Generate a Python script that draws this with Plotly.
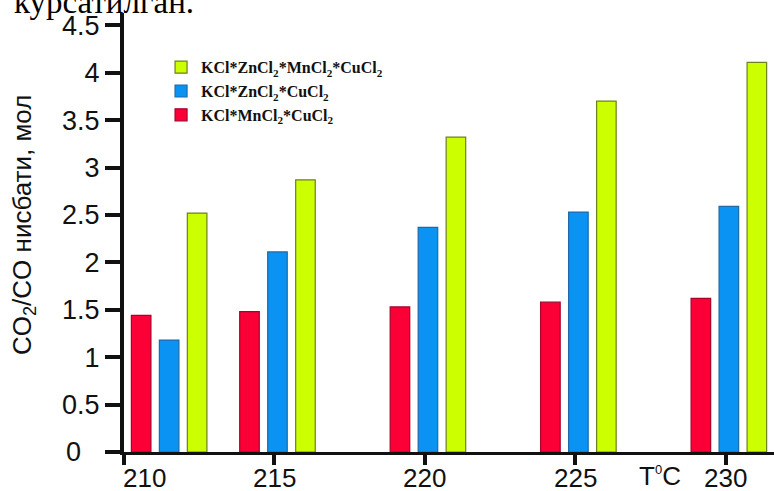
import plotly.graph_objects as go

# ---- data ----
temperatures = [210, 215, 220, 225, 230]
group_positions = [211.5, 215.1, 220.1, 225.1, 230.1]   # centre of each bar group on the T axis
series_names = ["KCl*MnCl<sub>2</sub>*CuCl<sub>2</sub>",
                "KCl*ZnCl<sub>2</sub>*CuCl<sub>2</sub>",
                "KCl*ZnCl<sub>2</sub>*MnCl<sub>2</sub>*CuCl<sub>2</sub>"]
kcl_mn_cu = [1.44, 1.48, 1.53, 1.58, 1.62]
kcl_zn_cu = [1.18, 2.11, 2.37, 2.53, 2.59]
kcl_zn_mn_cu = [2.52, 2.87, 3.32, 3.70, 4.11]
y_ticks = [0, 0.5, 1, 1.5, 2, 2.5, 3, 3.5, 4, 4.5]
y_tick_text = ["", "0.5", "1", "1.5", "2", "2.5", "3", "3.5", "4", "4.5"]
x_tick_text = ["210", "215", "220", "225", "230"]

fills = ["#FA0037", "#0A93F2", "#CCFF00"]
edges = ["#A8002A", "#1E6AA8", "#6F7F22"]
offsets = [-1.255, -0.325, 0.605]
bar_width = 0.65

fig = go.Figure()
for name, vals, fc, ec, off in zip(series_names, [kcl_mn_cu, kcl_zn_cu, kcl_zn_mn_cu],
                                    fills, edges, offsets):
    fig.add_trace(go.Bar(x=group_positions, y=vals, name="<b>" + name + "</b>",
                         width=bar_width, offset=off,
                         marker=dict(color=fc, line=dict(color=ec, width=1.2))))

annotations = []
# x tick labels
for i, (t, lab) in enumerate(zip(temperatures, x_tick_text)):
    annotations.append(dict(x=t, y=0, xref="x", yref="paper", text=lab, showarrow=False,
                            xanchor="left" if i == 0 else "center", yanchor="top",
                            xshift=-3 if i == 0 else 0, yshift=-9,
                            font=dict(family="Liberation Sans, Arial", size=26, color="#111")))
# T0C label
annotations.append(dict(x=227.8, y=0, xref="x", yref="paper",
                        text="T<sup><span style='font-size:13px'>0</span></sup>C",
                        showarrow=False, xanchor="center", yanchor="top", yshift=-7,
                        font=dict(family="Liberation Sans, Arial", size=26, color="#111")))
# "0" label of y axis
annotations.append(dict(x=0, y=0, xref="paper", yref="y", text="0", showarrow=False,
                        xanchor="right", yanchor="middle", xshift=-41,
                        font=dict(family="Liberation Sans, Arial", size=27, color="#111")))
# y axis title
annotations.append(dict(x=0, y=0.517, xref="paper", yref="paper",
                        text="CO<sub>2</sub>/CO нисбати, мол", textangle=-90,
                        showarrow=False, xanchor="center", yanchor="middle", xshift=-101,
                        font=dict(family="Liberation Sans, Arial", size=26, color="#111")))
# clipped text from the page above
annotations.append(dict(x=0, y=1, xref="paper", yref="paper", text="курсатилган.",
                        showarrow=False, xanchor="left", yanchor="bottom", xshift=-112, yshift=-9,
                        font=dict(family="Liberation Serif, Times New Roman", size=33, color="#000")))

fig.update_layout(
    width=774, height=491,
    margin=dict(l=124, r=0, t=13, b=39),
    paper_bgcolor="white", plot_bgcolor="white",
    barmode="overlay",
    showlegend=True,
    legend=dict(x=0.057, y=0.915, xanchor="left", yanchor="top", traceorder="reversed",
                bgcolor="rgba(255,255,255,0)", borderwidth=0, tracegroupgap=0,
                font=dict(family="Liberation Serif, Times New Roman", size=16, color="#111")),
    xaxis=dict(range=[210, 231.6], tickvals=temperatures, showticklabels=False,
               ticks="outside", ticklen=10, tickwidth=4, tickcolor="#111",
               showline=True, linewidth=3, linecolor="#111", showgrid=False, zeroline=False),
    yaxis=dict(range=[0, 4.63], tickvals=y_ticks, ticktext=y_tick_text,
               ticks="outside", ticklen=15, tickwidth=4, tickcolor="#111",
               showline=True, linewidth=4, linecolor="#111", showgrid=False, zeroline=False,
               tickfont=dict(family="Liberation Sans, Arial", size=27, color="#111")),
    annotations=annotations,
    font=dict(family="Liberation Sans, Arial"),
)

fig.write_html("out.html", config={"displayModeBar": False},
               post_script="document.body.style.margin='0';")
